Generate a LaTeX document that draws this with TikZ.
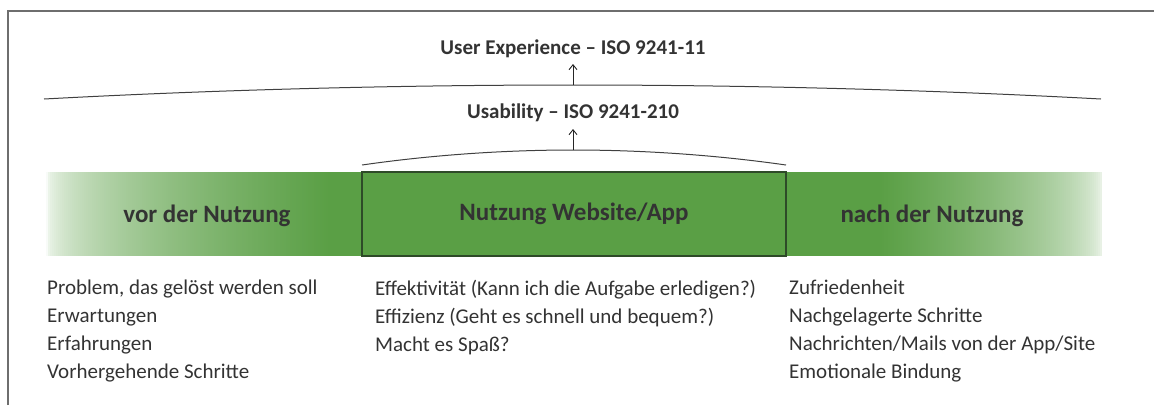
\documentclass[tikz,border=0pt]{standalone}
\usepackage{fontspec}
\setmainfont{Carlito}
\usetikzlibrary{arrows.meta}
\definecolor{grn}{HTML}{5A9F45}
\definecolor{txt}{HTML}{333333}
\definecolor{frame}{HTML}{6E6E6E}
\definecolor{boxline}{HTML}{2E4A28}
\tikzset{
  curve/.style={draw=black!75, line width=1pt},
  up/.style={draw=black!85, line width=0.9pt, -{Straight Barb[length=5pt,width=8pt]}},
  title/.style={font=\fontsize{21}{24}\selectfont\bfseries, text=txt, inner sep=0pt},
  band/.style={font=\fontsize{25}{28}\selectfont\bfseries, text=txt, inner sep=0pt},
  list/.style={font=\fontsize{21}{28}\selectfont, text=txt, align=left, inner sep=0pt, anchor=north west},
}
\begin{document}
\begin{tikzpicture}[x=1pt,y=-1pt]
\useasboundingbox (0,0) rectangle (1154,405);
% frame
\draw[frame, line width=1.3pt] (8,405) -- (8,11) -- (1154,11);
% green band: left fade
\foreach \i in {0,...,141} {
  \pgfmathsetmacro\xa{46+2*\i}
  \pgfmathsetmacro\p{4+96*sqrt(\i/141)}
  \fill[grn!\p!white] (\xa,172) rectangle (\xa+2.4,256);
}
\fill[grn] (329,172) rectangle (362,256);
% green band: right fade
\fill[grn] (786,172) rectangle (881,256);
\foreach \i in {0,...,110} {
  \pgfmathsetmacro\xa{880+2*\i}
  \pgfmathsetmacro\p{5+95*sqrt(1-\i/111)}
  \fill[grn!\p!white] (\xa,172) rectangle (\xa+2.4,256);
}
\node[draw=boxline, line width=1.3pt, fill=grn, minimum width=424pt, minimum height=84pt, inner sep=0pt] (mid) at (574,214) {};
\node[band] (vor) at (207,216) {vor der Nutzung};
\node[band] at (mid.center) {Nutzung Website/App};
\node[band] (nach) at (932,216) {nach der Nutzung};
% curves
\coordinate (c1l) at (44,99);
\coordinate (c1p) at (573,85);
\coordinate (c1r) at (1101,99);
\draw[curve] (c1l) parabola bend (c1p) (c1r);
\coordinate (c2l) at (362,165);
\coordinate (c2p) at (573,150);
\coordinate (c2r) at (786,165);
\draw[curve] (c2l) parabola bend (c2p) (c2r);
% titles
\node[title] (ux) at (573,49) {User Experience – ISO 9241-11};
\node[title] (us) at (573,113) {Usability – ISO 9241-210};
\draw[up] (c1p) -- (573,64);
\draw[up] (c2p) -- (573,129);
% lists
\node[list] (l1) at (47,280) {Problem, das gelöst werden soll\\Erwartungen\\Erfahrungen\\Vorhergehende Schritte};
\node[list] (l2) at (375,280) {Effektivität (Kann ich die Aufgabe erledigen?)\\Effizienz (Geht es schnell und bequem?)\\Macht es Spaß?};
\node[list] (l3) at (789,280) {Zufriedenheit\\Nachgelagerte Schritte\\Nachrichten/Mails von der App/Site\\Emotionale Bindung};
\end{tikzpicture}
\end{document}
